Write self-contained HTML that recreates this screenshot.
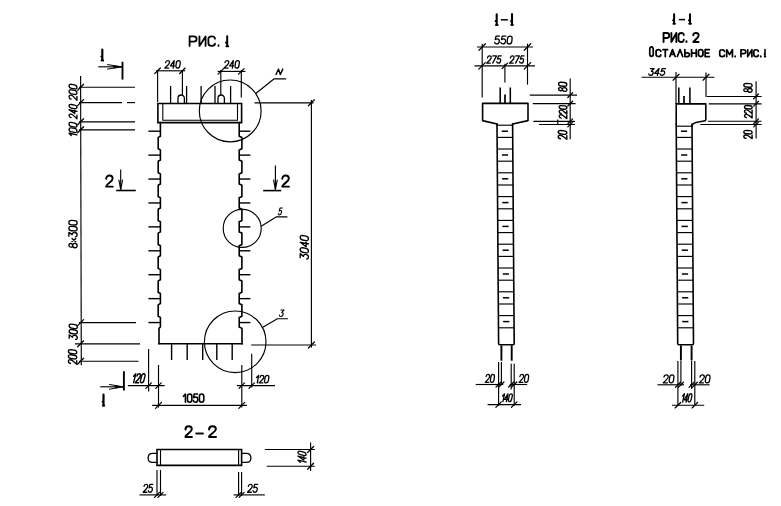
<!DOCTYPE html>
<html><head><meta charset="utf-8"><title>drawing</title>
<style>html,body{margin:0;padding:0;background:#fff;font-family:"Liberation Sans",sans-serif;}
svg{display:block}</style></head>
<body><svg width="781" height="506" viewBox="0 0 781 506">
<rect width="781" height="506" fill="#fff"/>
<defs><filter id="soft" filterUnits="userSpaceOnUse" x="0" y="0" width="781" height="506"><feGaussianBlur stdDeviation="0.3"/></filter></defs>
<g filter="url(#soft)">
<line x1="98.3" y1="66.8" x2="121.8" y2="66.8" stroke="#000" stroke-width="1.15" stroke-linecap="butt"/>
<path d="M121.6 66.8 L107.6 64.6 M121.6 66.8 L107.6 69.1" stroke="#000" stroke-width="1.0" fill="none" stroke-linejoin="round" stroke-linecap="round"/>
<path d="M121.8 66.8 L113.5 65.6 L113.5 68.0 Z" stroke="#000" stroke-width="0.3" fill="#000" stroke-linejoin="round" stroke-linecap="round"/>
<line x1="122.5" y1="61.8" x2="122.5" y2="79.6" stroke="#000" stroke-width="1.85" stroke-linecap="butt"/>
<line x1="80.6" y1="76" x2="81.3" y2="365.3" stroke="#000" stroke-width="1.15" stroke-linecap="butt"/>
<line x1="79" y1="87.2" x2="135" y2="87.2" stroke="#000" stroke-width="1.15" stroke-linecap="butt"/>
<line x1="79" y1="121.8" x2="135" y2="121.8" stroke="#000" stroke-width="1.15" stroke-linecap="butt"/>
<line x1="79" y1="129.8" x2="135" y2="129.8" stroke="#000" stroke-width="1.15" stroke-linecap="butt"/>
<line x1="79" y1="322.6" x2="136" y2="322.6" stroke="#000" stroke-width="1.15" stroke-linecap="butt"/>
<line x1="79" y1="361.2" x2="138.5" y2="361.2" stroke="#000" stroke-width="1.15" stroke-linecap="butt"/>
<line x1="79" y1="102.6" x2="122" y2="102.6" stroke="#000" stroke-width="1.15" stroke-linecap="butt"/>
<line x1="127" y1="102.6" x2="135" y2="102.6" stroke="#000" stroke-width="1.15" stroke-linecap="butt"/>
<line x1="75" y1="343.8" x2="140" y2="343.8" stroke="#000" stroke-width="1.15" stroke-linecap="butt"/>
<line x1="77.61" y1="90.19" x2="83.58999999999999" y2="84.21000000000001" stroke="#000" stroke-width="1.25" stroke-linecap="round"/>
<line x1="77.61" y1="105.58999999999999" x2="83.58999999999999" y2="99.61" stroke="#000" stroke-width="1.25" stroke-linecap="round"/>
<line x1="77.61" y1="124.78999999999999" x2="83.58999999999999" y2="118.81" stroke="#000" stroke-width="1.25" stroke-linecap="round"/>
<line x1="77.61" y1="132.79000000000002" x2="83.58999999999999" y2="126.81000000000002" stroke="#000" stroke-width="1.25" stroke-linecap="round"/>
<line x1="77.61" y1="325.59000000000003" x2="83.58999999999999" y2="319.61" stroke="#000" stroke-width="1.25" stroke-linecap="round"/>
<line x1="77.61" y1="346.79" x2="83.58999999999999" y2="340.81" stroke="#000" stroke-width="1.25" stroke-linecap="round"/>
<line x1="77.61" y1="364.19" x2="83.58999999999999" y2="358.21" stroke="#000" stroke-width="1.25" stroke-linecap="round"/>
<line x1="156" y1="70.8" x2="185.2" y2="70.8" stroke="#000" stroke-width="1.15" stroke-linecap="butt"/>
<line x1="157.6" y1="70" x2="157.6" y2="102" stroke="#000" stroke-width="1.15" stroke-linecap="butt"/>
<line x1="182.4" y1="70" x2="182.4" y2="95" stroke="#000" stroke-width="1.15" stroke-linecap="butt"/>
<line x1="154.84" y1="73.56" x2="160.35999999999999" y2="68.03999999999999" stroke="#000" stroke-width="1.25" stroke-linecap="round"/>
<line x1="179.64000000000001" y1="73.56" x2="185.16" y2="68.03999999999999" stroke="#000" stroke-width="1.25" stroke-linecap="round"/>
<line x1="217.6" y1="71.4" x2="245.4" y2="71.4" stroke="#000" stroke-width="1.15" stroke-linecap="butt"/>
<line x1="220.8" y1="70" x2="220.8" y2="95" stroke="#000" stroke-width="1.15" stroke-linecap="butt"/>
<line x1="241.3" y1="70" x2="241.3" y2="97.5" stroke="#000" stroke-width="1.15" stroke-linecap="butt"/>
<line x1="218.04000000000002" y1="74.16000000000001" x2="223.56" y2="68.64" stroke="#000" stroke-width="1.25" stroke-linecap="round"/>
<line x1="238.54000000000002" y1="74.16000000000001" x2="244.06" y2="68.64" stroke="#000" stroke-width="1.25" stroke-linecap="round"/>
<line x1="170.6" y1="86" x2="170.6" y2="103" stroke="#000" stroke-width="1.3" stroke-linecap="butt"/>
<line x1="186.6" y1="86" x2="186.6" y2="103" stroke="#000" stroke-width="1.3" stroke-linecap="butt"/>
<line x1="201.1" y1="86" x2="201.1" y2="103" stroke="#000" stroke-width="1.3" stroke-linecap="butt"/>
<line x1="215.0" y1="86" x2="215.0" y2="103" stroke="#000" stroke-width="1.3" stroke-linecap="butt"/>
<line x1="230.6" y1="86" x2="230.6" y2="103" stroke="#000" stroke-width="1.3" stroke-linecap="butt"/>
<path d="M178.0 103 L178.0 98.3 A3.2 3.3 0 0 1 184.4 98.3 L184.4 103" stroke="#000" stroke-width="1.3" fill="none" stroke-linejoin="round" stroke-linecap="round"/>
<path d="M218.0 103 L218.0 98.3 A3.2 3.3 0 0 1 224.4 98.3 L224.4 103" stroke="#000" stroke-width="1.3" fill="none" stroke-linejoin="round" stroke-linecap="round"/>
<path d="M157.9 103.5 L241.6 103.5 L241.6 122.6 L157.9 122.6 Z" stroke="#000" stroke-width="1.6" fill="none" stroke-linejoin="miter" stroke-linecap="round"/>
<path d="M162.8 103.5 L162.8 120.3 L237.5 120.3 L237.5 103.5" stroke="#000" stroke-width="1.1" fill="none" stroke-linejoin="miter" stroke-linecap="round"/>
<path d="M160.4 122.6 L160.4 136.2 L158.2 137.4 L158.2 148.8 L160.4 150.0 L160.4 160.1 L158.2 161.3 L158.2 172.7 L160.4 173.9 L160.4 184.0 L158.2 185.2 L158.2 196.6 L160.4 197.8 L160.4 208.0 L158.2 209.2 L158.2 220.6 L160.4 221.8 L160.4 231.9 L158.2 233.1 L158.2 244.5 L160.4 245.7 L160.4 255.8 L158.2 257.0 L158.2 268.4 L160.4 269.6 L160.4 279.7 L158.2 280.9 L158.2 292.3 L160.4 293.5 L160.4 303.6 L158.2 304.8 L158.2 316.2 L160.4 317.4 L160.4 327.0 L159.0 328.4 L159.0 343.8" stroke="#000" stroke-width="1.6" fill="none" stroke-linejoin="round" stroke-linecap="round"/>
<path d="M239.2 122.6 L239.2 136.2 L241.9 137.4 L241.9 148.8 L239.2 150.0 L239.2 160.1 L241.9 161.3 L241.9 172.7 L239.2 173.9 L239.2 184.0 L241.9 185.2 L241.9 196.6 L239.2 197.8 L239.2 208.0 L241.9 209.2 L241.9 220.6 L239.2 221.8 L239.2 231.9 L241.9 233.1 L241.9 244.5 L239.2 245.7 L239.2 255.8 L241.9 257.0 L241.9 268.4 L239.2 269.6 L239.2 279.7 L241.9 280.9 L241.9 292.3 L239.2 293.5 L239.2 303.6 L241.9 304.8 L241.9 316.2 L239.2 317.4 L239.2 327.0 L242.0 328.4 L242.0 343.8" stroke="#000" stroke-width="1.6" fill="none" stroke-linejoin="round" stroke-linecap="round"/>
<line x1="159.0" y1="343.8" x2="242.2" y2="343.8" stroke="#000" stroke-width="1.6" stroke-linecap="square"/>
<line x1="148.4" y1="131.2" x2="160.4" y2="131.2" stroke="#000" stroke-width="1.4" stroke-linecap="butt"/>
<line x1="239.2" y1="131.2" x2="250.4" y2="131.2" stroke="#000" stroke-width="1.4" stroke-linecap="butt"/>
<line x1="148.4" y1="155.12" x2="160.4" y2="155.12" stroke="#000" stroke-width="1.4" stroke-linecap="butt"/>
<line x1="239.2" y1="155.12" x2="250.4" y2="155.12" stroke="#000" stroke-width="1.4" stroke-linecap="butt"/>
<line x1="148.4" y1="179.04" x2="160.4" y2="179.04" stroke="#000" stroke-width="1.4" stroke-linecap="butt"/>
<line x1="239.2" y1="179.04" x2="250.4" y2="179.04" stroke="#000" stroke-width="1.4" stroke-linecap="butt"/>
<line x1="148.4" y1="202.95999999999998" x2="160.4" y2="202.95999999999998" stroke="#000" stroke-width="1.4" stroke-linecap="butt"/>
<line x1="239.2" y1="202.95999999999998" x2="250.4" y2="202.95999999999998" stroke="#000" stroke-width="1.4" stroke-linecap="butt"/>
<line x1="148.4" y1="226.88" x2="160.4" y2="226.88" stroke="#000" stroke-width="1.4" stroke-linecap="butt"/>
<line x1="239.2" y1="226.88" x2="250.4" y2="226.88" stroke="#000" stroke-width="1.4" stroke-linecap="butt"/>
<line x1="148.4" y1="250.8" x2="160.4" y2="250.8" stroke="#000" stroke-width="1.4" stroke-linecap="butt"/>
<line x1="239.2" y1="250.8" x2="250.4" y2="250.8" stroke="#000" stroke-width="1.4" stroke-linecap="butt"/>
<line x1="148.4" y1="274.72" x2="160.4" y2="274.72" stroke="#000" stroke-width="1.4" stroke-linecap="butt"/>
<line x1="239.2" y1="274.72" x2="250.4" y2="274.72" stroke="#000" stroke-width="1.4" stroke-linecap="butt"/>
<line x1="148.4" y1="298.64" x2="160.4" y2="298.64" stroke="#000" stroke-width="1.4" stroke-linecap="butt"/>
<line x1="239.2" y1="298.64" x2="250.4" y2="298.64" stroke="#000" stroke-width="1.4" stroke-linecap="butt"/>
<line x1="148.4" y1="322.56" x2="160.4" y2="322.56" stroke="#000" stroke-width="1.4" stroke-linecap="butt"/>
<line x1="239.2" y1="322.56" x2="250.4" y2="322.56" stroke="#000" stroke-width="1.4" stroke-linecap="butt"/>
<line x1="171.6" y1="343.8" x2="171.6" y2="360" stroke="#000" stroke-width="1.4" stroke-linecap="butt"/>
<line x1="187.2" y1="343.8" x2="187.2" y2="360" stroke="#000" stroke-width="1.4" stroke-linecap="butt"/>
<line x1="202.7" y1="343.8" x2="202.7" y2="360" stroke="#000" stroke-width="1.4" stroke-linecap="butt"/>
<line x1="216.8" y1="343.8" x2="216.8" y2="360" stroke="#000" stroke-width="1.4" stroke-linecap="butt"/>
<line x1="232.2" y1="343.8" x2="232.2" y2="360" stroke="#000" stroke-width="1.4" stroke-linecap="butt"/>
<circle cx="230.2" cy="110.9" r="30.9" stroke="#000" stroke-width="1.15" fill="none"/>
<path d="M256.1 93.3 L274.2 78.8 L285.8 78.8" stroke="#000" stroke-width="1.15" fill="none" stroke-linejoin="round" stroke-linecap="round"/>
<circle cx="242.2" cy="228.4" r="19.0" stroke="#000" stroke-width="1.15" fill="none"/>
<path d="M261.2 226.2 L276.1 216.9 L287 216.9" stroke="#000" stroke-width="1.15" fill="none" stroke-linejoin="round" stroke-linecap="round"/>
<circle cx="235.2" cy="341.8" r="30.8" stroke="#000" stroke-width="1.15" fill="none"/>
<path d="M262.4 327.6 L277.4 318.7 L287.5 318.7" stroke="#000" stroke-width="1.15" fill="none" stroke-linejoin="round" stroke-linecap="round"/>
<line x1="120.7" y1="169.5" x2="120.7" y2="189.6" stroke="#000" stroke-width="1.15" stroke-linecap="butt"/>
<path d="M120.7 189.6 L118.9 180 M120.7 189.6 L122.5 180" stroke="#000" stroke-width="1.15" fill="none" stroke-linejoin="round" stroke-linecap="round"/>
<line x1="116.2" y1="190.5" x2="135.8" y2="190.5" stroke="#000" stroke-width="1.6" stroke-linecap="butt"/>
<line x1="275.4" y1="165.5" x2="275.4" y2="189.6" stroke="#000" stroke-width="1.15" stroke-linecap="butt"/>
<path d="M275.4 189.6 L273.6 180 M275.4 189.6 L277.2 180" stroke="#000" stroke-width="1.15" fill="none" stroke-linejoin="round" stroke-linecap="round"/>
<line x1="263.2" y1="190.6" x2="281.2" y2="190.6" stroke="#000" stroke-width="1.6" stroke-linecap="butt"/>
<line x1="311.4" y1="100" x2="311.4" y2="347.5" stroke="#000" stroke-width="1.15" stroke-linecap="butt"/>
<line x1="254.5" y1="102.8" x2="313.6" y2="102.8" stroke="#000" stroke-width="1.15" stroke-linecap="butt"/>
<line x1="251.2" y1="345" x2="316" y2="345" stroke="#000" stroke-width="1.15" stroke-linecap="butt"/>
<line x1="308.40999999999997" y1="105.78999999999999" x2="314.39" y2="99.81" stroke="#000" stroke-width="1.25" stroke-linecap="round"/>
<line x1="308.40999999999997" y1="347.99" x2="314.39" y2="342.01" stroke="#000" stroke-width="1.25" stroke-linecap="round"/>
<line x1="148.6" y1="349" x2="148.6" y2="391.5" stroke="#000" stroke-width="1.15" stroke-linecap="butt"/>
<line x1="158.5" y1="365" x2="158.5" y2="407.6" stroke="#000" stroke-width="1.15" stroke-linecap="butt"/>
<line x1="127.9" y1="385.6" x2="164.7" y2="385.6" stroke="#000" stroke-width="1.15" stroke-linecap="butt"/>
<line x1="145.84" y1="388.36" x2="151.35999999999999" y2="382.84000000000003" stroke="#000" stroke-width="1.25" stroke-linecap="round"/>
<line x1="155.74" y1="388.36" x2="161.26" y2="382.84000000000003" stroke="#000" stroke-width="1.25" stroke-linecap="round"/>
<line x1="123.9" y1="371.3" x2="123.9" y2="390.5" stroke="#000" stroke-width="1.9" stroke-linecap="butt"/>
<line x1="100.2" y1="386.8" x2="123.2" y2="386.8" stroke="#000" stroke-width="1.15" stroke-linecap="butt"/>
<path d="M123.0 386.8 L109.5 384.5 M123.0 386.8 L109.5 389.2" stroke="#000" stroke-width="1.0" fill="none" stroke-linejoin="round" stroke-linecap="round"/>
<path d="M123.2 386.8 L115 385.6 L115 388.0 Z" stroke="#000" stroke-width="0.3" fill="#000" stroke-linejoin="round" stroke-linecap="round"/>
<line x1="152.2" y1="405.4" x2="246.9" y2="405.4" stroke="#000" stroke-width="1.15" stroke-linecap="butt"/>
<line x1="155.51" y1="408.39" x2="161.49" y2="402.40999999999997" stroke="#000" stroke-width="1.25" stroke-linecap="round"/>
<line x1="238.81" y1="408.39" x2="244.79000000000002" y2="402.40999999999997" stroke="#000" stroke-width="1.25" stroke-linecap="round"/>
<line x1="241.8" y1="365" x2="241.8" y2="407.6" stroke="#000" stroke-width="1.15" stroke-linecap="butt"/>
<line x1="251.7" y1="353.7" x2="251.7" y2="387.6" stroke="#000" stroke-width="1.15" stroke-linecap="butt"/>
<line x1="237" y1="385.6" x2="275" y2="385.6" stroke="#000" stroke-width="1.15" stroke-linecap="butt"/>
<line x1="239.04000000000002" y1="388.36" x2="244.56" y2="382.84000000000003" stroke="#000" stroke-width="1.25" stroke-linecap="round"/>
<line x1="248.94" y1="388.36" x2="254.45999999999998" y2="382.84000000000003" stroke="#000" stroke-width="1.25" stroke-linecap="round"/>
<line x1="195.4" y1="433.5" x2="203.7" y2="433.5" stroke="#000" stroke-width="1.9" stroke-linecap="butt"/>
<path d="M157 449.5 L241.6 449.5 L241.6 465.4 L157 465.4 Z" stroke="#000" stroke-width="1.6" fill="none" stroke-linejoin="miter" stroke-linecap="round"/>
<line x1="160.5" y1="449.5" x2="160.5" y2="465.4" stroke="#000" stroke-width="1.15" stroke-linecap="butt"/>
<line x1="238.6" y1="449.5" x2="238.6" y2="465.4" stroke="#000" stroke-width="1.15" stroke-linecap="butt"/>
<path d="M157 453.4 L152.6 453.4 C146.6 453.4 146.6 462.4 152.6 462.4 L157 462.4" stroke="#000" stroke-width="1.3" fill="none" stroke-linejoin="round" stroke-linecap="round"/>
<path d="M241.6 453.4 L246.4 453.4 C252.4 453.4 252.4 462.4 246.4 462.4 L241.6 462.4" stroke="#000" stroke-width="1.3" fill="none" stroke-linejoin="round" stroke-linecap="round"/>
<line x1="264.8" y1="449.5" x2="314.8" y2="449.5" stroke="#000" stroke-width="1.15" stroke-linecap="butt"/>
<line x1="266.8" y1="466.2" x2="314.8" y2="466.2" stroke="#000" stroke-width="1.15" stroke-linecap="butt"/>
<line x1="310.6" y1="442.5" x2="310.6" y2="471" stroke="#000" stroke-width="1.15" stroke-linecap="butt"/>
<line x1="307.61" y1="452.49" x2="313.59000000000003" y2="446.51" stroke="#000" stroke-width="1.25" stroke-linecap="round"/>
<line x1="307.61" y1="469.19" x2="313.59000000000003" y2="463.21" stroke="#000" stroke-width="1.25" stroke-linecap="round"/>
<line x1="157" y1="470" x2="157" y2="496" stroke="#000" stroke-width="1.15" stroke-linecap="butt"/>
<line x1="160.5" y1="470" x2="160.5" y2="496" stroke="#000" stroke-width="1.15" stroke-linecap="butt"/>
<line x1="139.5" y1="494.9" x2="166.2" y2="494.9" stroke="#000" stroke-width="1.15" stroke-linecap="butt"/>
<line x1="154.47" y1="497.42999999999995" x2="159.53" y2="492.37" stroke="#000" stroke-width="1.25" stroke-linecap="round"/>
<line x1="157.97" y1="497.42999999999995" x2="163.03" y2="492.37" stroke="#000" stroke-width="1.25" stroke-linecap="round"/>
<line x1="238.6" y1="472" x2="238.6" y2="496" stroke="#000" stroke-width="1.15" stroke-linecap="butt"/>
<line x1="241.6" y1="472" x2="241.6" y2="496" stroke="#000" stroke-width="1.15" stroke-linecap="butt"/>
<line x1="233.6" y1="494.9" x2="264.8" y2="494.9" stroke="#000" stroke-width="1.15" stroke-linecap="butt"/>
<line x1="236.07" y1="497.42999999999995" x2="241.13" y2="492.37" stroke="#000" stroke-width="1.25" stroke-linecap="round"/>
<line x1="239.07" y1="497.42999999999995" x2="244.13" y2="492.37" stroke="#000" stroke-width="1.25" stroke-linecap="round"/>
<line x1="500.8" y1="19.8" x2="507.9" y2="19.8" stroke="#000" stroke-width="1.5" stroke-linecap="butt"/>
<line x1="477" y1="47.0" x2="533" y2="47.0" stroke="#000" stroke-width="1.15" stroke-linecap="butt"/>
<line x1="478.97999999999996" y1="50.22" x2="485.42" y2="43.78" stroke="#000" stroke-width="1.25" stroke-linecap="round"/>
<line x1="524.28" y1="50.22" x2="530.72" y2="43.78" stroke="#000" stroke-width="1.25" stroke-linecap="round"/>
<line x1="474.5" y1="65.9" x2="535" y2="65.9" stroke="#000" stroke-width="1.15" stroke-linecap="butt"/>
<line x1="478.78" y1="69.12" x2="485.22" y2="62.68000000000001" stroke="#000" stroke-width="1.25" stroke-linecap="round"/>
<line x1="502.04" y1="68.66000000000001" x2="507.56" y2="63.14000000000001" stroke="#000" stroke-width="1.25" stroke-linecap="round"/>
<line x1="524.28" y1="69.12" x2="530.72" y2="62.68000000000001" stroke="#000" stroke-width="1.25" stroke-linecap="round"/>
<line x1="482.2" y1="43.7" x2="482.2" y2="97.6" stroke="#000" stroke-width="1.15" stroke-linecap="butt"/>
<line x1="527.5" y1="43.7" x2="527.5" y2="84.6" stroke="#000" stroke-width="1.15" stroke-linecap="butt"/>
<line x1="504.9" y1="63.7" x2="504.9" y2="82.5" stroke="#000" stroke-width="1.15" stroke-linecap="butt"/>
<line x1="500.2" y1="87.5" x2="500.2" y2="103.2" stroke="#000" stroke-width="1.55" stroke-linecap="butt"/>
<line x1="510.3" y1="87.5" x2="510.3" y2="103.2" stroke="#000" stroke-width="1.55" stroke-linecap="butt"/>
<line x1="505.0" y1="94.4" x2="505.0" y2="103.2" stroke="#000" stroke-width="1.7" stroke-linecap="butt"/>
<path d="M482.6 103.4 L528.0 103.4 L528.0 120.6 L512.6 124.0 L512.6 125 M482.6 103.4 L482.6 120.6 L497.0 124.0 L497.0 125" stroke="#000" stroke-width="1.6" fill="none" stroke-linejoin="round" stroke-linecap="round"/>
<path d="M497.0 124.0 L498.6 343.6 Q498.6 344.8 499.8 344.8 L513.0 344.8 Q514.2 344.8 514.2 343.6 L512.6 124.0" stroke="#000" stroke-width="1.6" fill="none" stroke-linejoin="round" stroke-linecap="round"/>
<line x1="497.04513193812556" y1="125.19999999999999" x2="512.6451319381256" y2="125.19999999999999" stroke="#000" stroke-width="1.15" stroke-linecap="butt"/>
<line x1="497.04513193812556" y1="137.39999999999998" x2="512.6451319381256" y2="137.39999999999998" stroke="#000" stroke-width="1.15" stroke-linecap="butt"/>
<line x1="501.74513193812555" y1="131.2" x2="507.94513193812554" y2="131.2" stroke="#000" stroke-width="1.5" stroke-linecap="butt"/>
<line x1="497.2183803457689" y1="149.0" x2="512.8183803457689" y2="149.0" stroke="#000" stroke-width="1.15" stroke-linecap="butt"/>
<line x1="497.2183803457689" y1="161.2" x2="512.8183803457689" y2="161.2" stroke="#000" stroke-width="1.15" stroke-linecap="butt"/>
<line x1="501.91838034576887" y1="155.0" x2="508.11838034576886" y2="155.0" stroke="#000" stroke-width="1.5" stroke-linecap="butt"/>
<line x1="497.3916287534122" y1="172.79999999999998" x2="512.9916287534122" y2="172.79999999999998" stroke="#000" stroke-width="1.15" stroke-linecap="butt"/>
<line x1="497.3916287534122" y1="184.99999999999997" x2="512.9916287534122" y2="184.99999999999997" stroke="#000" stroke-width="1.15" stroke-linecap="butt"/>
<line x1="502.0916287534122" y1="178.79999999999998" x2="508.29162875341217" y2="178.79999999999998" stroke="#000" stroke-width="1.5" stroke-linecap="butt"/>
<line x1="497.5648771610555" y1="196.6" x2="513.1648771610555" y2="196.6" stroke="#000" stroke-width="1.15" stroke-linecap="butt"/>
<line x1="497.5648771610555" y1="208.79999999999998" x2="513.1648771610555" y2="208.79999999999998" stroke="#000" stroke-width="1.15" stroke-linecap="butt"/>
<line x1="502.2648771610555" y1="202.6" x2="508.4648771610555" y2="202.6" stroke="#000" stroke-width="1.5" stroke-linecap="butt"/>
<line x1="497.7381255686988" y1="220.39999999999998" x2="513.3381255686988" y2="220.39999999999998" stroke="#000" stroke-width="1.15" stroke-linecap="butt"/>
<line x1="497.7381255686988" y1="232.59999999999997" x2="513.3381255686988" y2="232.59999999999997" stroke="#000" stroke-width="1.15" stroke-linecap="butt"/>
<line x1="502.4381255686988" y1="226.39999999999998" x2="508.6381255686988" y2="226.39999999999998" stroke="#000" stroke-width="1.5" stroke-linecap="butt"/>
<line x1="497.91137397634213" y1="244.2" x2="513.5113739763422" y2="244.2" stroke="#000" stroke-width="1.15" stroke-linecap="butt"/>
<line x1="497.91137397634213" y1="256.4" x2="513.5113739763422" y2="256.4" stroke="#000" stroke-width="1.15" stroke-linecap="butt"/>
<line x1="502.6113739763421" y1="250.2" x2="508.8113739763421" y2="250.2" stroke="#000" stroke-width="1.5" stroke-linecap="butt"/>
<line x1="498.08462238398545" y1="268.0" x2="513.6846223839855" y2="268.0" stroke="#000" stroke-width="1.15" stroke-linecap="butt"/>
<line x1="498.08462238398545" y1="280.2" x2="513.6846223839855" y2="280.2" stroke="#000" stroke-width="1.15" stroke-linecap="butt"/>
<line x1="502.78462238398544" y1="274.0" x2="508.9846223839854" y2="274.0" stroke="#000" stroke-width="1.5" stroke-linecap="butt"/>
<line x1="498.25787079162876" y1="291.79999999999995" x2="513.8578707916288" y2="291.79999999999995" stroke="#000" stroke-width="1.15" stroke-linecap="butt"/>
<line x1="498.25787079162876" y1="303.99999999999994" x2="513.8578707916288" y2="303.99999999999994" stroke="#000" stroke-width="1.15" stroke-linecap="butt"/>
<line x1="502.95787079162875" y1="297.79999999999995" x2="509.15787079162874" y2="297.79999999999995" stroke="#000" stroke-width="1.5" stroke-linecap="butt"/>
<line x1="498.4311191992721" y1="315.6" x2="514.0311191992721" y2="315.6" stroke="#000" stroke-width="1.15" stroke-linecap="butt"/>
<line x1="498.4311191992721" y1="327.8" x2="514.0311191992721" y2="327.8" stroke="#000" stroke-width="1.15" stroke-linecap="butt"/>
<line x1="503.13111919927206" y1="321.6" x2="509.33111919927205" y2="321.6" stroke="#000" stroke-width="1.5" stroke-linecap="butt"/>
<line x1="501.4" y1="345.4" x2="501.4" y2="360.7" stroke="#000" stroke-width="1.9" stroke-linecap="butt"/>
<line x1="511.7" y1="345.4" x2="511.7" y2="360.7" stroke="#000" stroke-width="1.9" stroke-linecap="butt"/>
<line x1="498.6" y1="362" x2="498.6" y2="405.8" stroke="#000" stroke-width="1.15" stroke-linecap="butt"/>
<line x1="501.4" y1="362" x2="501.4" y2="384.8" stroke="#000" stroke-width="1.15" stroke-linecap="butt"/>
<line x1="511.2" y1="363.8" x2="511.2" y2="389.5" stroke="#000" stroke-width="1.15" stroke-linecap="butt"/>
<line x1="514.2" y1="363.8" x2="514.2" y2="405.8" stroke="#000" stroke-width="1.15" stroke-linecap="butt"/>
<line x1="475.7" y1="384.5" x2="503.3" y2="384.5" stroke="#000" stroke-width="1.15" stroke-linecap="butt"/>
<line x1="509.6" y1="384.5" x2="527.2" y2="384.5" stroke="#000" stroke-width="1.15" stroke-linecap="butt"/>
<line x1="496.07000000000005" y1="387.03" x2="501.13" y2="381.97" stroke="#000" stroke-width="1.25" stroke-linecap="round"/>
<line x1="498.87" y1="387.03" x2="503.92999999999995" y2="381.97" stroke="#000" stroke-width="1.25" stroke-linecap="round"/>
<line x1="508.67" y1="387.03" x2="513.73" y2="381.97" stroke="#000" stroke-width="1.25" stroke-linecap="round"/>
<line x1="511.6700000000001" y1="387.03" x2="516.73" y2="381.97" stroke="#000" stroke-width="1.25" stroke-linecap="round"/>
<line x1="487.6" y1="404.6" x2="521" y2="404.6" stroke="#000" stroke-width="1.15" stroke-linecap="butt"/>
<line x1="495.84000000000003" y1="407.36" x2="501.36" y2="401.84000000000003" stroke="#000" stroke-width="1.25" stroke-linecap="round"/>
<line x1="511.44000000000005" y1="407.36" x2="516.96" y2="401.84000000000003" stroke="#000" stroke-width="1.25" stroke-linecap="round"/>
<line x1="570.2" y1="78.5" x2="570.2" y2="139.3" stroke="#000" stroke-width="1.15" stroke-linecap="butt"/>
<line x1="557.8" y1="119.5" x2="557.8" y2="125" stroke="#000" stroke-width="1.15" stroke-linecap="butt"/>
<line x1="529.8" y1="95.1" x2="577" y2="95.1" stroke="#000" stroke-width="1.15" stroke-linecap="butt"/>
<line x1="532.8" y1="103.6" x2="575.6" y2="103.6" stroke="#000" stroke-width="1.15" stroke-linecap="butt"/>
<line x1="533.4" y1="121.3" x2="575" y2="121.3" stroke="#000" stroke-width="1.15" stroke-linecap="butt"/>
<line x1="539" y1="124.5" x2="575" y2="124.5" stroke="#000" stroke-width="1.15" stroke-linecap="butt"/>
<line x1="567.8000000000001" y1="97.5" x2="572.6" y2="92.69999999999999" stroke="#000" stroke-width="1.25" stroke-linecap="round"/>
<line x1="567.8000000000001" y1="106.0" x2="572.6" y2="101.19999999999999" stroke="#000" stroke-width="1.25" stroke-linecap="round"/>
<line x1="567.8000000000001" y1="123.7" x2="572.6" y2="118.89999999999999" stroke="#000" stroke-width="1.25" stroke-linecap="round"/>
<line x1="567.8000000000001" y1="126.9" x2="572.6" y2="122.1" stroke="#000" stroke-width="1.25" stroke-linecap="round"/>
<line x1="678.8" y1="19.6" x2="685.0" y2="19.6" stroke="#000" stroke-width="1.5" stroke-linecap="butt"/>
<line x1="641.6" y1="77.2" x2="714.4" y2="77.2" stroke="#000" stroke-width="1.15" stroke-linecap="butt"/>
<line x1="673.01" y1="80.19" x2="678.99" y2="74.21000000000001" stroke="#000" stroke-width="1.25" stroke-linecap="round"/>
<line x1="703.01" y1="80.19" x2="708.99" y2="74.21000000000001" stroke="#000" stroke-width="1.25" stroke-linecap="round"/>
<line x1="676.0" y1="72.0" x2="676.0" y2="103.9" stroke="#000" stroke-width="1.15" stroke-linecap="butt"/>
<line x1="706.0" y1="72.5" x2="706.0" y2="96.9" stroke="#000" stroke-width="1.15" stroke-linecap="butt"/>
<line x1="678.8" y1="87.6" x2="678.8" y2="103.9" stroke="#000" stroke-width="1.55" stroke-linecap="butt"/>
<line x1="689.9" y1="87.6" x2="689.9" y2="103.9" stroke="#000" stroke-width="1.55" stroke-linecap="butt"/>
<line x1="684.0" y1="96.0" x2="684.0" y2="103.9" stroke="#000" stroke-width="1.7" stroke-linecap="butt"/>
<path d="M676.2 124.5 L676.2 103.9 L705.8 103.9 L705.8 119.4 Q705.8 120.8 704 121.0 L697 122.2 Q692.2 123 692.0 126.2" stroke="#000" stroke-width="1.6" fill="none" stroke-linejoin="round" stroke-linecap="round"/>
<path d="M676.2 124.0 L677.7 343.6 Q677.7 344.8 678.9000000000001 344.8 L692.3 344.8 Q693.5 344.8 693.5 343.6 L692.0 124.0" stroke="#000" stroke-width="1.6" fill="none" stroke-linejoin="round" stroke-linecap="round"/>
<line x1="676.2423111919927" y1="126.2" x2="692.0423111919927" y2="126.2" stroke="#000" stroke-width="1.15" stroke-linecap="butt"/>
<line x1="676.2423111919927" y1="137.39999999999998" x2="692.0423111919927" y2="137.39999999999998" stroke="#000" stroke-width="1.15" stroke-linecap="butt"/>
<line x1="680.9423111919928" y1="131.2" x2="687.1423111919927" y2="131.2" stroke="#000" stroke-width="1.5" stroke-linecap="butt"/>
<line x1="676.4047315741584" y1="149.0" x2="692.2047315741584" y2="149.0" stroke="#000" stroke-width="1.15" stroke-linecap="butt"/>
<line x1="676.4047315741584" y1="161.2" x2="692.2047315741584" y2="161.2" stroke="#000" stroke-width="1.15" stroke-linecap="butt"/>
<line x1="681.1047315741584" y1="155.0" x2="687.3047315741584" y2="155.0" stroke="#000" stroke-width="1.5" stroke-linecap="butt"/>
<line x1="676.567151956324" y1="172.79999999999998" x2="692.3671519563239" y2="172.79999999999998" stroke="#000" stroke-width="1.15" stroke-linecap="butt"/>
<line x1="676.567151956324" y1="184.99999999999997" x2="692.3671519563239" y2="184.99999999999997" stroke="#000" stroke-width="1.15" stroke-linecap="butt"/>
<line x1="681.267151956324" y1="178.79999999999998" x2="687.467151956324" y2="178.79999999999998" stroke="#000" stroke-width="1.5" stroke-linecap="butt"/>
<line x1="676.7295723384896" y1="196.6" x2="692.5295723384895" y2="196.6" stroke="#000" stroke-width="1.15" stroke-linecap="butt"/>
<line x1="676.7295723384896" y1="208.79999999999998" x2="692.5295723384895" y2="208.79999999999998" stroke="#000" stroke-width="1.15" stroke-linecap="butt"/>
<line x1="681.4295723384896" y1="202.6" x2="687.6295723384895" y2="202.6" stroke="#000" stroke-width="1.5" stroke-linecap="butt"/>
<line x1="676.8919927206551" y1="220.39999999999998" x2="692.6919927206551" y2="220.39999999999998" stroke="#000" stroke-width="1.15" stroke-linecap="butt"/>
<line x1="676.8919927206551" y1="232.59999999999997" x2="692.6919927206551" y2="232.59999999999997" stroke="#000" stroke-width="1.15" stroke-linecap="butt"/>
<line x1="681.5919927206552" y1="226.39999999999998" x2="687.7919927206551" y2="226.39999999999998" stroke="#000" stroke-width="1.5" stroke-linecap="butt"/>
<line x1="677.0544131028208" y1="244.2" x2="692.8544131028208" y2="244.2" stroke="#000" stroke-width="1.15" stroke-linecap="butt"/>
<line x1="677.0544131028208" y1="256.4" x2="692.8544131028208" y2="256.4" stroke="#000" stroke-width="1.15" stroke-linecap="butt"/>
<line x1="681.7544131028209" y1="250.2" x2="687.9544131028208" y2="250.2" stroke="#000" stroke-width="1.5" stroke-linecap="butt"/>
<line x1="677.2168334849864" y1="268.0" x2="693.0168334849864" y2="268.0" stroke="#000" stroke-width="1.15" stroke-linecap="butt"/>
<line x1="677.2168334849864" y1="280.2" x2="693.0168334849864" y2="280.2" stroke="#000" stroke-width="1.15" stroke-linecap="butt"/>
<line x1="681.9168334849865" y1="274.0" x2="688.1168334849864" y2="274.0" stroke="#000" stroke-width="1.5" stroke-linecap="butt"/>
<line x1="677.379253867152" y1="291.79999999999995" x2="693.1792538671519" y2="291.79999999999995" stroke="#000" stroke-width="1.15" stroke-linecap="butt"/>
<line x1="677.379253867152" y1="303.99999999999994" x2="693.1792538671519" y2="303.99999999999994" stroke="#000" stroke-width="1.15" stroke-linecap="butt"/>
<line x1="682.079253867152" y1="297.79999999999995" x2="688.279253867152" y2="297.79999999999995" stroke="#000" stroke-width="1.5" stroke-linecap="butt"/>
<line x1="677.5416742493176" y1="315.6" x2="693.3416742493175" y2="315.6" stroke="#000" stroke-width="1.15" stroke-linecap="butt"/>
<line x1="677.5416742493176" y1="327.8" x2="693.3416742493175" y2="327.8" stroke="#000" stroke-width="1.15" stroke-linecap="butt"/>
<line x1="682.2416742493176" y1="321.6" x2="688.4416742493175" y2="321.6" stroke="#000" stroke-width="1.5" stroke-linecap="butt"/>
<line x1="680.9" y1="345.4" x2="680.9" y2="360.5" stroke="#000" stroke-width="1.9" stroke-linecap="butt"/>
<line x1="691.6" y1="345.4" x2="691.6" y2="360.5" stroke="#000" stroke-width="1.9" stroke-linecap="butt"/>
<line x1="677.9" y1="361" x2="677.9" y2="405.8" stroke="#000" stroke-width="1.15" stroke-linecap="butt"/>
<line x1="680.9" y1="361" x2="680.9" y2="385" stroke="#000" stroke-width="1.15" stroke-linecap="butt"/>
<line x1="691.6" y1="361" x2="691.6" y2="389" stroke="#000" stroke-width="1.15" stroke-linecap="butt"/>
<line x1="694.8" y1="361" x2="694.8" y2="405.8" stroke="#000" stroke-width="1.15" stroke-linecap="butt"/>
<line x1="657.4" y1="384.8" x2="684" y2="384.8" stroke="#000" stroke-width="1.15" stroke-linecap="butt"/>
<line x1="690" y1="384.8" x2="709.6" y2="384.8" stroke="#000" stroke-width="1.15" stroke-linecap="butt"/>
<line x1="675.37" y1="387.33" x2="680.43" y2="382.27000000000004" stroke="#000" stroke-width="1.25" stroke-linecap="round"/>
<line x1="678.37" y1="387.33" x2="683.43" y2="382.27000000000004" stroke="#000" stroke-width="1.25" stroke-linecap="round"/>
<line x1="689.07" y1="387.33" x2="694.13" y2="382.27000000000004" stroke="#000" stroke-width="1.25" stroke-linecap="round"/>
<line x1="692.27" y1="387.33" x2="697.3299999999999" y2="382.27000000000004" stroke="#000" stroke-width="1.25" stroke-linecap="round"/>
<line x1="672" y1="405.2" x2="704.2" y2="405.2" stroke="#000" stroke-width="1.15" stroke-linecap="butt"/>
<line x1="675.14" y1="407.96" x2="680.66" y2="402.44" stroke="#000" stroke-width="1.25" stroke-linecap="round"/>
<line x1="692.04" y1="407.96" x2="697.56" y2="402.44" stroke="#000" stroke-width="1.25" stroke-linecap="round"/>
<line x1="756.1" y1="81.2" x2="756.1" y2="138.6" stroke="#000" stroke-width="1.15" stroke-linecap="butt"/>
<line x1="707" y1="96.5" x2="761.6" y2="96.5" stroke="#000" stroke-width="1.15" stroke-linecap="butt"/>
<line x1="708.7" y1="103.9" x2="761.6" y2="103.9" stroke="#000" stroke-width="1.15" stroke-linecap="butt"/>
<line x1="707.9" y1="121.2" x2="761.6" y2="121.2" stroke="#000" stroke-width="1.15" stroke-linecap="butt"/>
<line x1="700.3" y1="124.5" x2="761.6" y2="124.5" stroke="#000" stroke-width="1.15" stroke-linecap="butt"/>
<line x1="753.7" y1="98.80000000000001" x2="758.5" y2="94.0" stroke="#000" stroke-width="1.25" stroke-linecap="round"/>
<line x1="753.7" y1="106.10000000000001" x2="758.5" y2="101.3" stroke="#000" stroke-width="1.25" stroke-linecap="round"/>
<line x1="753.7" y1="123.7" x2="758.5" y2="118.89999999999999" stroke="#000" stroke-width="1.25" stroke-linecap="round"/>
<line x1="753.7" y1="126.9" x2="758.5" y2="122.1" stroke="#000" stroke-width="1.25" stroke-linecap="round"/>
<g transform="translate(189.60 45.90) scale(1.1746 0.9500)" fill="none" stroke="#000" stroke-width="1.8" stroke-linecap="round" stroke-linejoin="round"><path vector-effect="non-scaling-stroke" transform="translate(0.000 -10)" d="M0 10 L0 0 L3.4 0 C5.1 0 6.0 1 6.0 2.8 C6.0 4.6 5.1 5.6 3.4 5.6 L0 5.6"/><path vector-effect="non-scaling-stroke" transform="translate(8.400 -10)" d="M0 0 L0 10 L5.2 0 L5.2 10"/><path vector-effect="non-scaling-stroke" transform="translate(16.000 -10)" d="M5.6 2.4 C5.6 0.9 4.5 0 2.9 0 C1 0 0 1 0 2.8 L0 7.2 C0 9 1 10 2.9 10 C4.5 10 5.6 9.1 5.6 7.6"/><path vector-effect="non-scaling-stroke" transform="translate(24.000 -10)" d="M0.6 9.3 L0.6 10"/></g>
<g transform="translate(226.00 46.50) scale(1.0000 1.0500)" fill="none" stroke="#000" stroke-width="2.0" stroke-linecap="round" stroke-linejoin="round"><path vector-effect="non-scaling-stroke" transform="translate(0.000 -10)" d="M0.1 6.3 L1.2 5.6 M1.2 0.2 L1.2 9.7 M0.4 9.8 L2.2 9.8"/></g>
<g transform="translate(101.40 60.70) scale(0.7500 1.1400)" fill="none" stroke="#000" stroke-width="2.2" stroke-linecap="round" stroke-linejoin="round"><path vector-effect="non-scaling-stroke" transform="translate(0.000 -10)" d="M0.1 6.3 L1.2 5.6 M1.2 0.2 L1.2 9.7 M0.4 9.8 L2.2 9.8"/></g>
<g transform="translate(102.70 405.80) scale(0.6667 1.1400)" fill="none" stroke="#000" stroke-width="2.2" stroke-linecap="round" stroke-linejoin="round"><path vector-effect="non-scaling-stroke" transform="translate(0.000 -10)" d="M0.1 6.3 L1.2 5.6 M1.2 0.2 L1.2 9.7 M0.4 9.8 L2.2 9.8"/></g>
<g transform="translate(76.95 100.35) rotate(-90) skewX(-11) scale(0.7194 0.7900)" fill="none" stroke="#000" stroke-width="1.3" stroke-linecap="round" stroke-linejoin="round"><path vector-effect="non-scaling-stroke" transform="translate(0.000 -10)" d="M0 2.6 C0 1 1.1 0 2.8 0 C4.5 0 5.6 1 5.6 2.6 C5.6 4 4.8 5 3.6 6.2 L0 10 L5.6 10"/><path vector-effect="non-scaling-stroke" transform="translate(7.600 -10)" d="M2.8 0 C1 0 0 1.3 0 3 L0 7 C0 8.7 1 10 2.8 10 C4.6 10 5.6 8.7 5.6 7 L5.6 3 C5.6 1.3 4.6 0 2.8 0 Z"/><path vector-effect="non-scaling-stroke" transform="translate(15.200 -10)" d="M2.8 0 C1 0 0 1.3 0 3 L0 7 C0 8.7 1 10 2.8 10 C4.6 10 5.6 8.7 5.6 7 L5.6 3 C5.6 1.3 4.6 0 2.8 0 Z"/></g>
<g transform="translate(76.95 118.75) rotate(-90) skewX(-11) scale(0.6269 0.7900)" fill="none" stroke="#000" stroke-width="1.3" stroke-linecap="round" stroke-linejoin="round"><path vector-effect="non-scaling-stroke" transform="translate(0.000 -10)" d="M0 2.6 C0 1 1.1 0 2.8 0 C4.5 0 5.6 1 5.6 2.6 C5.6 4 4.8 5 3.6 6.2 L0 10 L5.6 10"/><path vector-effect="non-scaling-stroke" transform="translate(7.600 -10)" d="M4.3 10 L4.3 0 L0 7.2 L5.8 7.2"/><path vector-effect="non-scaling-stroke" transform="translate(15.400 -10)" d="M2.8 0 C1 0 0 1.3 0 3 L0 7 C0 8.7 1 10 2.8 10 C4.6 10 5.6 8.7 5.6 7 L5.6 3 C5.6 1.3 4.6 0 2.8 0 Z"/></g>
<g transform="translate(76.95 136.65) rotate(-90) skewX(-11) scale(0.7155 0.7900)" fill="none" stroke="#000" stroke-width="1.3" stroke-linecap="round" stroke-linejoin="round"><path vector-effect="non-scaling-stroke" transform="translate(0.000 -10)" d="M0 2.8 L2.6 0 L2.6 10"/><path vector-effect="non-scaling-stroke" transform="translate(5.200 -10)" d="M2.8 0 C1 0 0 1.3 0 3 L0 7 C0 8.7 1 10 2.8 10 C4.6 10 5.6 8.7 5.6 7 L5.6 3 C5.6 1.3 4.6 0 2.8 0 Z"/><path vector-effect="non-scaling-stroke" transform="translate(12.800 -10)" d="M2.8 0 C1 0 0 1.3 0 3 L0 7 C0 8.7 1 10 2.8 10 C4.6 10 5.6 8.7 5.6 7 L5.6 3 C5.6 1.3 4.6 0 2.8 0 Z"/></g>
<g transform="translate(77.12 247.92) rotate(-90) skewX(-4) scale(0.7780 0.8250)" fill="none" stroke="#000" stroke-width="1.35" stroke-linecap="round" stroke-linejoin="round"><path vector-effect="non-scaling-stroke" transform="translate(0.000 -10)" d="M2.8 4.6 C1.4 4.6 0.5 3.7 0.5 2.3 C0.5 0.9 1.4 0 2.8 0 C4.2 0 5.1 0.9 5.1 2.3 C5.1 3.7 4.2 4.6 2.8 4.6 C1.1 4.6 0 5.7 0 7.3 C0 8.9 1.1 10 2.8 10 C4.5 10 5.6 8.9 5.6 7.3 C5.6 5.7 4.5 4.6 2.8 4.6 Z"/><path vector-effect="non-scaling-stroke" transform="translate(7.600 -10)" d="M0.2 3.8 L4.2 8.4 M4.2 3.8 L0.2 8.4"/><path vector-effect="non-scaling-stroke" transform="translate(14.000 -10)" d="M0.3 0 L5.3 0 L2.6 4 C4.4 4 5.6 5.1 5.6 7 C5.6 8.9 4.5 10 2.8 10 C1.3 10 0.3 9.3 0 8"/><path vector-effect="non-scaling-stroke" transform="translate(21.600 -10)" d="M2.8 0 C1 0 0 1.3 0 3 L0 7 C0 8.7 1 10 2.8 10 C4.6 10 5.6 8.7 5.6 7 L5.6 3 C5.6 1.3 4.6 0 2.8 0 Z"/><path vector-effect="non-scaling-stroke" transform="translate(29.200 -10)" d="M2.8 0 C1 0 0 1.3 0 3 L0 7 C0 8.7 1 10 2.8 10 C4.6 10 5.6 8.7 5.6 7 L5.6 3 C5.6 1.3 4.6 0 2.8 0 Z"/></g>
<g transform="translate(77.33 339.72) rotate(-90) skewX(-8) scale(0.7118 0.8150)" fill="none" stroke="#000" stroke-width="1.35" stroke-linecap="round" stroke-linejoin="round"><path vector-effect="non-scaling-stroke" transform="translate(0.000 -10)" d="M0.3 0 L5.3 0 L2.6 4 C4.4 4 5.6 5.1 5.6 7 C5.6 8.9 4.5 10 2.8 10 C1.3 10 0.3 9.3 0 8"/><path vector-effect="non-scaling-stroke" transform="translate(7.600 -10)" d="M2.8 0 C1 0 0 1.3 0 3 L0 7 C0 8.7 1 10 2.8 10 C4.6 10 5.6 8.7 5.6 7 L5.6 3 C5.6 1.3 4.6 0 2.8 0 Z"/><path vector-effect="non-scaling-stroke" transform="translate(15.200 -10)" d="M2.8 0 C1 0 0 1.3 0 3 L0 7 C0 8.7 1 10 2.8 10 C4.6 10 5.6 8.7 5.6 7 L5.6 3 C5.6 1.3 4.6 0 2.8 0 Z"/></g>
<g transform="translate(76.73 364.32) rotate(-90) skewX(-8) scale(0.6623 0.8350)" fill="none" stroke="#000" stroke-width="1.35" stroke-linecap="round" stroke-linejoin="round"><path vector-effect="non-scaling-stroke" transform="translate(0.000 -10)" d="M0 2.6 C0 1 1.1 0 2.8 0 C4.5 0 5.6 1 5.6 2.6 C5.6 4 4.8 5 3.6 6.2 L0 10 L5.6 10"/><path vector-effect="non-scaling-stroke" transform="translate(7.600 -10)" d="M2.8 0 C1 0 0 1.3 0 3 L0 7 C0 8.7 1 10 2.8 10 C4.6 10 5.6 8.7 5.6 7 L5.6 3 C5.6 1.3 4.6 0 2.8 0 Z"/><path vector-effect="non-scaling-stroke" transform="translate(15.200 -10)" d="M2.8 0 C1 0 0 1.3 0 3 L0 7 C0 8.7 1 10 2.8 10 C4.6 10 5.6 8.7 5.6 7 L5.6 3 C5.6 1.3 4.6 0 2.8 0 Z"/></g>
<g transform="translate(164.85 68.05) skewX(-8) scale(0.6974 0.7500)" fill="none" stroke="#000" stroke-width="1.3" stroke-linecap="round" stroke-linejoin="round"><path vector-effect="non-scaling-stroke" transform="translate(0.000 -10)" d="M0 2.6 C0 1 1.1 0 2.8 0 C4.5 0 5.6 1 5.6 2.6 C5.6 4 4.8 5 3.6 6.2 L0 10 L5.6 10"/><path vector-effect="non-scaling-stroke" transform="translate(7.600 -10)" d="M4.3 10 L4.3 0 L0 7.2 L5.8 7.2"/><path vector-effect="non-scaling-stroke" transform="translate(15.400 -10)" d="M2.8 0 C1 0 0 1.3 0 3 L0 7 C0 8.7 1 10 2.8 10 C4.6 10 5.6 8.7 5.6 7 L5.6 3 C5.6 1.3 4.6 0 2.8 0 Z"/></g>
<g transform="translate(224.15 68.05) skewX(-8) scale(0.6879 0.7500)" fill="none" stroke="#000" stroke-width="1.3" stroke-linecap="round" stroke-linejoin="round"><path vector-effect="non-scaling-stroke" transform="translate(0.000 -10)" d="M0 2.6 C0 1 1.1 0 2.8 0 C4.5 0 5.6 1 5.6 2.6 C5.6 4 4.8 5 3.6 6.2 L0 10 L5.6 10"/><path vector-effect="non-scaling-stroke" transform="translate(7.600 -10)" d="M4.3 10 L4.3 0 L0 7.2 L5.8 7.2"/><path vector-effect="non-scaling-stroke" transform="translate(15.400 -10)" d="M2.8 0 C1 0 0 1.3 0 3 L0 7 C0 8.7 1 10 2.8 10 C4.6 10 5.6 8.7 5.6 7 L5.6 3 C5.6 1.3 4.6 0 2.8 0 Z"/></g>
<g transform="translate(276.00 74.50) skewX(-25) scale(0.7646 0.5400)" fill="none" stroke="#000" stroke-width="1.4" stroke-linecap="round" stroke-linejoin="round"><path vector-effect="non-scaling-stroke" transform="translate(0.000 -10)" d="M0 10 L0 0 L5.6 10 L5.6 0"/></g>
<g transform="translate(277.95 214.85) skewX(-14) scale(0.5321 0.6900)" fill="none" stroke="#000" stroke-width="1.1" stroke-linecap="round" stroke-linejoin="round"><path vector-effect="non-scaling-stroke" transform="translate(0.000 -10)" d="M5.2 0 L0.9 0 L0.4 4.4 C1.2 3.8 2 3.6 2.9 3.6 C4.6 3.6 5.6 4.9 5.6 6.8 C5.6 8.8 4.5 10 2.8 10 C1.3 10 0.3 9.3 0 8"/></g>
<g transform="translate(279.15 316.45) skewX(-14) scale(0.6213 0.6500)" fill="none" stroke="#000" stroke-width="1.1" stroke-linecap="round" stroke-linejoin="round"><path vector-effect="non-scaling-stroke" transform="translate(0.000 -10)" d="M0.3 0 L5.3 0 L2.6 4 C4.4 4 5.6 5.1 5.6 7 C5.6 8.9 4.5 10 2.8 10 C1.3 10 0.3 9.3 0 8"/></g>
<g transform="translate(308.43 259.32) rotate(-90) skewX(-10) scale(0.7970 0.8250)" fill="none" stroke="#000" stroke-width="1.35" stroke-linecap="round" stroke-linejoin="round"><path vector-effect="non-scaling-stroke" transform="translate(0.000 -10)" d="M0.3 0 L5.3 0 L2.6 4 C4.4 4 5.6 5.1 5.6 7 C5.6 8.9 4.5 10 2.8 10 C1.3 10 0.3 9.3 0 8"/><path vector-effect="non-scaling-stroke" transform="translate(7.600 -10)" d="M2.8 0 C1 0 0 1.3 0 3 L0 7 C0 8.7 1 10 2.8 10 C4.6 10 5.6 8.7 5.6 7 L5.6 3 C5.6 1.3 4.6 0 2.8 0 Z"/><path vector-effect="non-scaling-stroke" transform="translate(15.200 -10)" d="M4.3 10 L4.3 0 L0 7.2 L5.8 7.2"/><path vector-effect="non-scaling-stroke" transform="translate(23.000 -10)" d="M2.8 0 C1 0 0 1.3 0 3 L0 7 C0 8.7 1 10 2.8 10 C4.6 10 5.6 8.7 5.6 7 L5.6 3 C5.6 1.3 4.6 0 2.8 0 Z"/></g>
<g transform="translate(132.00 382.70) skewX(-14) scale(0.6172 0.9000)" fill="none" stroke="#000" stroke-width="1.4" stroke-linecap="round" stroke-linejoin="round"><path vector-effect="non-scaling-stroke" transform="translate(0.000 -10)" d="M0 2.8 L2.6 0 L2.6 10"/><path vector-effect="non-scaling-stroke" transform="translate(5.200 -10)" d="M0 2.6 C0 1 1.1 0 2.8 0 C4.5 0 5.6 1 5.6 2.6 C5.6 4 4.8 5 3.6 6.2 L0 10 L5.6 10"/><path vector-effect="non-scaling-stroke" transform="translate(12.800 -10)" d="M2.8 0 C1 0 0 1.3 0 3 L0 7 C0 8.7 1 10 2.8 10 C4.6 10 5.6 8.7 5.6 7 L5.6 3 C5.6 1.3 4.6 0 2.8 0 Z"/></g>
<g transform="translate(183.40 402.20) scale(0.7846 0.8200)" fill="none" stroke="#000" stroke-width="1.6" stroke-linecap="round" stroke-linejoin="round"><path vector-effect="non-scaling-stroke" transform="translate(0.000 -10)" d="M0 2.8 L2.6 0 L2.6 10"/><path vector-effect="non-scaling-stroke" transform="translate(5.200 -10)" d="M2.8 0 C1 0 0 1.3 0 3 L0 7 C0 8.7 1 10 2.8 10 C4.6 10 5.6 8.7 5.6 7 L5.6 3 C5.6 1.3 4.6 0 2.8 0 Z"/><path vector-effect="non-scaling-stroke" transform="translate(12.800 -10)" d="M5.2 0 L0.9 0 L0.4 4.4 C1.2 3.8 2 3.6 2.9 3.6 C4.6 3.6 5.6 4.9 5.6 6.8 C5.6 8.8 4.5 10 2.8 10 C1.3 10 0.3 9.3 0 8"/><path vector-effect="non-scaling-stroke" transform="translate(20.400 -10)" d="M2.8 0 C1 0 0 1.3 0 3 L0 7 C0 8.7 1 10 2.8 10 C4.6 10 5.6 8.7 5.6 7 L5.6 3 C5.6 1.3 4.6 0 2.8 0 Z"/></g>
<g transform="translate(255.55 382.95) skewX(-10) scale(0.6727 0.7500)" fill="none" stroke="#000" stroke-width="1.3" stroke-linecap="round" stroke-linejoin="round"><path vector-effect="non-scaling-stroke" transform="translate(0.000 -10)" d="M0 2.8 L2.6 0 L2.6 10"/><path vector-effect="non-scaling-stroke" transform="translate(5.200 -10)" d="M0 2.6 C0 1 1.1 0 2.8 0 C4.5 0 5.6 1 5.6 2.6 C5.6 4 4.8 5 3.6 6.2 L0 10 L5.6 10"/><path vector-effect="non-scaling-stroke" transform="translate(12.800 -10)" d="M2.8 0 C1 0 0 1.3 0 3 L0 7 C0 8.7 1 10 2.8 10 C4.6 10 5.6 8.7 5.6 7 L5.6 3 C5.6 1.3 4.6 0 2.8 0 Z"/></g>
<g transform="translate(306.15 463.75) rotate(-90) skewX(-14) scale(0.5930 0.8300)" fill="none" stroke="#000" stroke-width="1.3" stroke-linecap="round" stroke-linejoin="round"><path vector-effect="non-scaling-stroke" transform="translate(0.000 -10)" d="M0 2.8 L2.6 0 L2.6 10"/><path vector-effect="non-scaling-stroke" transform="translate(5.200 -10)" d="M4.3 10 L4.3 0 L0 7.2 L5.8 7.2"/><path vector-effect="non-scaling-stroke" transform="translate(13.000 -10)" d="M2.8 0 C1 0 0 1.3 0 3 L0 7 C0 8.7 1 10 2.8 10 C4.6 10 5.6 8.7 5.6 7 L5.6 3 C5.6 1.3 4.6 0 2.8 0 Z"/></g>
<g transform="translate(143.15 492.25) skewX(-8) scale(0.6659 0.7900)" fill="none" stroke="#000" stroke-width="1.3" stroke-linecap="round" stroke-linejoin="round"><path vector-effect="non-scaling-stroke" transform="translate(0.000 -10)" d="M0 2.6 C0 1 1.1 0 2.8 0 C4.5 0 5.6 1 5.6 2.6 C5.6 4 4.8 5 3.6 6.2 L0 10 L5.6 10"/><path vector-effect="non-scaling-stroke" transform="translate(7.600 -10)" d="M5.2 0 L0.9 0 L0.4 4.4 C1.2 3.8 2 3.6 2.9 3.6 C4.6 3.6 5.6 4.9 5.6 6.8 C5.6 8.8 4.5 10 2.8 10 C1.3 10 0.3 9.3 0 8"/></g>
<g transform="translate(247.45 492.25) skewX(-8) scale(0.7113 0.7900)" fill="none" stroke="#000" stroke-width="1.3" stroke-linecap="round" stroke-linejoin="round"><path vector-effect="non-scaling-stroke" transform="translate(0.000 -10)" d="M0 2.6 C0 1 1.1 0 2.8 0 C4.5 0 5.6 1 5.6 2.6 C5.6 4 4.8 5 3.6 6.2 L0 10 L5.6 10"/><path vector-effect="non-scaling-stroke" transform="translate(7.600 -10)" d="M5.2 0 L0.9 0 L0.4 4.4 C1.2 3.8 2 3.6 2.9 3.6 C4.6 3.6 5.6 4.9 5.6 6.8 C5.6 8.8 4.5 10 2.8 10 C1.3 10 0.3 9.3 0 8"/></g>
<g transform="translate(105.95 186.65) scale(1.0625 1.1200)" fill="none" stroke="#000" stroke-width="1.9" stroke-linecap="round" stroke-linejoin="round"><path vector-effect="non-scaling-stroke" transform="translate(0.000 -10)" d="M0.2 3.0 C0.2 1.2 1.5 0 3.3 0 C5.1 0 6.3 1.1 6.3 2.7 C6.3 4.2 5.3 5.1 3.5 6.4 C1.7 7.7 0.5 8.6 0.1 10 L6.4 10"/></g>
<g transform="translate(282.05 186.65) scale(1.0781 1.1200)" fill="none" stroke="#000" stroke-width="1.9" stroke-linecap="round" stroke-linejoin="round"><path vector-effect="non-scaling-stroke" transform="translate(0.000 -10)" d="M0.2 3.0 C0.2 1.2 1.5 0 3.3 0 C5.1 0 6.3 1.1 6.3 2.7 C6.3 4.2 5.3 5.1 3.5 6.4 C1.7 7.7 0.5 8.6 0.1 10 L6.4 10"/></g>
<g transform="translate(185.30 436.90) scale(1.0312 1.0700)" fill="none" stroke="#000" stroke-width="2.0" stroke-linecap="round" stroke-linejoin="round"><path vector-effect="non-scaling-stroke" transform="translate(0.000 -10)" d="M0.2 3.0 C0.2 1.2 1.5 0 3.3 0 C5.1 0 6.3 1.1 6.3 2.7 C6.3 4.2 5.3 5.1 3.5 6.4 C1.7 7.7 0.5 8.6 0.1 10 L6.4 10"/></g>
<g transform="translate(208.90 436.90) scale(1.1094 1.0700)" fill="none" stroke="#000" stroke-width="2.0" stroke-linecap="round" stroke-linejoin="round"><path vector-effect="non-scaling-stroke" transform="translate(0.000 -10)" d="M0.2 3.0 C0.2 1.2 1.5 0 3.3 0 C5.1 0 6.3 1.1 6.3 2.7 C6.3 4.2 5.3 5.1 3.5 6.4 C1.7 7.7 0.5 8.6 0.1 10 L6.4 10"/></g>
<g transform="translate(495.65 25.25) scale(0.8750 1.1300)" fill="none" stroke="#000" stroke-width="2.1" stroke-linecap="round" stroke-linejoin="round"><path vector-effect="non-scaling-stroke" transform="translate(0.000 -10)" d="M0.1 6.3 L1.2 5.6 M1.2 0.2 L1.2 9.7 M0.4 9.8 L2.2 9.8"/></g>
<g transform="translate(511.05 25.05) scale(0.7917 1.1100)" fill="none" stroke="#000" stroke-width="2.1" stroke-linecap="round" stroke-linejoin="round"><path vector-effect="non-scaling-stroke" transform="translate(0.000 -10)" d="M0.1 6.3 L1.2 5.6 M1.2 0.2 L1.2 9.7 M0.4 9.8 L2.2 9.8"/></g>
<g transform="translate(494.45 43.95) skewX(-6) scale(0.8207 0.7900)" fill="none" stroke="#000" stroke-width="1.3" stroke-linecap="round" stroke-linejoin="round"><path vector-effect="non-scaling-stroke" transform="translate(0.000 -10)" d="M5.2 0 L0.9 0 L0.4 4.4 C1.2 3.8 2 3.6 2.9 3.6 C4.6 3.6 5.6 4.9 5.6 6.8 C5.6 8.8 4.5 10 2.8 10 C1.3 10 0.3 9.3 0 8"/><path vector-effect="non-scaling-stroke" transform="translate(7.600 -10)" d="M5.2 0 L0.9 0 L0.4 4.4 C1.2 3.8 2 3.6 2.9 3.6 C4.6 3.6 5.6 4.9 5.6 6.8 C5.6 8.8 4.5 10 2.8 10 C1.3 10 0.3 9.3 0 8"/><path vector-effect="non-scaling-stroke" transform="translate(15.200 -10)" d="M2.8 0 C1 0 0 1.3 0 3 L0 7 C0 8.7 1 10 2.8 10 C4.6 10 5.6 8.7 5.6 7 L5.6 3 C5.6 1.3 4.6 0 2.8 0 Z"/></g>
<g transform="translate(486.55 63.15) skewX(-10) scale(0.6553 0.7200)" fill="none" stroke="#000" stroke-width="1.3" stroke-linecap="round" stroke-linejoin="round"><path vector-effect="non-scaling-stroke" transform="translate(0.000 -10)" d="M0 2.6 C0 1 1.1 0 2.8 0 C4.5 0 5.6 1 5.6 2.6 C5.6 4 4.8 5 3.6 6.2 L0 10 L5.6 10"/><path vector-effect="non-scaling-stroke" transform="translate(7.600 -10)" d="M0 0 L5.6 0 L1.8 10"/><path vector-effect="non-scaling-stroke" transform="translate(15.200 -10)" d="M5.2 0 L0.9 0 L0.4 4.4 C1.2 3.8 2 3.6 2.9 3.6 C4.6 3.6 5.6 4.9 5.6 6.8 C5.6 8.8 4.5 10 2.8 10 C1.3 10 0.3 9.3 0 8"/></g>
<g transform="translate(509.45 63.15) skewX(-10) scale(0.6553 0.7200)" fill="none" stroke="#000" stroke-width="1.3" stroke-linecap="round" stroke-linejoin="round"><path vector-effect="non-scaling-stroke" transform="translate(0.000 -10)" d="M0 2.6 C0 1 1.1 0 2.8 0 C4.5 0 5.6 1 5.6 2.6 C5.6 4 4.8 5 3.6 6.2 L0 10 L5.6 10"/><path vector-effect="non-scaling-stroke" transform="translate(7.600 -10)" d="M0 0 L5.6 0 L1.8 10"/><path vector-effect="non-scaling-stroke" transform="translate(15.200 -10)" d="M5.2 0 L0.9 0 L0.4 4.4 C1.2 3.8 2 3.6 2.9 3.6 C4.6 3.6 5.6 4.9 5.6 6.8 C5.6 8.8 4.5 10 2.8 10 C1.3 10 0.3 9.3 0 8"/></g>
<g transform="translate(566.80 91.60) rotate(-90) skewX(-5) scale(0.6729 0.8200)" fill="none" stroke="#000" stroke-width="1.4" stroke-linecap="round" stroke-linejoin="round"><path vector-effect="non-scaling-stroke" transform="translate(0.000 -10)" d="M2.8 4.6 C1.4 4.6 0.5 3.7 0.5 2.3 C0.5 0.9 1.4 0 2.8 0 C4.2 0 5.1 0.9 5.1 2.3 C5.1 3.7 4.2 4.6 2.8 4.6 C1.1 4.6 0 5.7 0 7.3 C0 8.9 1.1 10 2.8 10 C4.5 10 5.6 8.9 5.6 7.3 C5.6 5.7 4.5 4.6 2.8 4.6 Z"/><path vector-effect="non-scaling-stroke" transform="translate(7.600 -10)" d="M2.8 0 C1 0 0 1.3 0 3 L0 7 C0 8.7 1 10 2.8 10 C4.6 10 5.6 8.7 5.6 7 L5.6 3 C5.6 1.3 4.6 0 2.8 0 Z"/></g>
<g transform="translate(566.80 118.60) rotate(-90) skewX(-5) scale(0.6026 0.7600)" fill="none" stroke="#000" stroke-width="1.4" stroke-linecap="round" stroke-linejoin="round"><path vector-effect="non-scaling-stroke" transform="translate(0.000 -10)" d="M0 2.6 C0 1 1.1 0 2.8 0 C4.5 0 5.6 1 5.6 2.6 C5.6 4 4.8 5 3.6 6.2 L0 10 L5.6 10"/><path vector-effect="non-scaling-stroke" transform="translate(7.600 -10)" d="M0 2.6 C0 1 1.1 0 2.8 0 C4.5 0 5.6 1 5.6 2.6 C5.6 4 4.8 5 3.6 6.2 L0 10 L5.6 10"/><path vector-effect="non-scaling-stroke" transform="translate(15.200 -10)" d="M2.8 0 C1 0 0 1.3 0 3 L0 7 C0 8.7 1 10 2.8 10 C4.6 10 5.6 8.7 5.6 7 L5.6 3 C5.6 1.3 4.6 0 2.8 0 Z"/></g>
<g transform="translate(566.80 139.30) rotate(-90) skewX(-5) scale(0.6248 0.8600)" fill="none" stroke="#000" stroke-width="1.4" stroke-linecap="round" stroke-linejoin="round"><path vector-effect="non-scaling-stroke" transform="translate(0.000 -10)" d="M0 2.6 C0 1 1.1 0 2.8 0 C4.5 0 5.6 1 5.6 2.6 C5.6 4 4.8 5 3.6 6.2 L0 10 L5.6 10"/><path vector-effect="non-scaling-stroke" transform="translate(7.600 -10)" d="M2.8 0 C1 0 0 1.3 0 3 L0 7 C0 8.7 1 10 2.8 10 C4.6 10 5.6 8.7 5.6 7 L5.6 3 C5.6 1.3 4.6 0 2.8 0 Z"/></g>
<g transform="translate(485.25 382.35) skewX(-8) scale(0.6356 0.7900)" fill="none" stroke="#000" stroke-width="1.3" stroke-linecap="round" stroke-linejoin="round"><path vector-effect="non-scaling-stroke" transform="translate(0.000 -10)" d="M0 2.6 C0 1 1.1 0 2.8 0 C4.5 0 5.6 1 5.6 2.6 C5.6 4 4.8 5 3.6 6.2 L0 10 L5.6 10"/><path vector-effect="non-scaling-stroke" transform="translate(7.600 -10)" d="M2.8 0 C1 0 0 1.3 0 3 L0 7 C0 8.7 1 10 2.8 10 C4.6 10 5.6 8.7 5.6 7 L5.6 3 C5.6 1.3 4.6 0 2.8 0 Z"/></g>
<g transform="translate(519.05 382.35) skewX(-8) scale(0.6659 0.7900)" fill="none" stroke="#000" stroke-width="1.3" stroke-linecap="round" stroke-linejoin="round"><path vector-effect="non-scaling-stroke" transform="translate(0.000 -10)" d="M0 2.6 C0 1 1.1 0 2.8 0 C4.5 0 5.6 1 5.6 2.6 C5.6 4 4.8 5 3.6 6.2 L0 10 L5.6 10"/><path vector-effect="non-scaling-stroke" transform="translate(7.600 -10)" d="M2.8 0 C1 0 0 1.3 0 3 L0 7 C0 8.7 1 10 2.8 10 C4.6 10 5.6 8.7 5.6 7 L5.6 3 C5.6 1.3 4.6 0 2.8 0 Z"/></g>
<g transform="translate(501.45 401.55) skewX(-12) scale(0.5554 0.7700)" fill="none" stroke="#000" stroke-width="1.3" stroke-linecap="round" stroke-linejoin="round"><path vector-effect="non-scaling-stroke" transform="translate(0.000 -10)" d="M0 2.8 L2.6 0 L2.6 10"/><path vector-effect="non-scaling-stroke" transform="translate(4.600 -10)" d="M4.3 10 L4.3 0 L0 7.2 L5.8 7.2"/><path vector-effect="non-scaling-stroke" transform="translate(11.800 -10)" d="M2.8 0 C1 0 0 1.3 0 3 L0 7 C0 8.7 1 10 2.8 10 C4.6 10 5.6 8.7 5.6 7 L5.6 3 C5.6 1.3 4.6 0 2.8 0 Z"/></g>
<g transform="translate(673.10 24.00) scale(0.8333 0.9900)" fill="none" stroke="#000" stroke-width="2.0" stroke-linecap="round" stroke-linejoin="round"><path vector-effect="non-scaling-stroke" transform="translate(0.000 -10)" d="M0.1 6.3 L1.2 5.6 M1.2 0.2 L1.2 9.7 M0.4 9.8 L2.2 9.8"/></g>
<g transform="translate(688.90 24.00) scale(0.9167 0.9900)" fill="none" stroke="#000" stroke-width="2.0" stroke-linecap="round" stroke-linejoin="round"><path vector-effect="non-scaling-stroke" transform="translate(0.000 -10)" d="M0.1 6.3 L1.2 5.6 M1.2 0.2 L1.2 9.7 M0.4 9.8 L2.2 9.8"/></g>
<g transform="translate(663.55 41.95) scale(0.9553 0.9000)" fill="none" stroke="#000" stroke-width="1.9" stroke-linecap="round" stroke-linejoin="round"><path vector-effect="non-scaling-stroke" transform="translate(0.000 -10)" d="M0 10 L0 0 L3.4 0 C5.1 0 6.0 1 6.0 2.8 C6.0 4.6 5.1 5.6 3.4 5.6 L0 5.6"/><path vector-effect="non-scaling-stroke" transform="translate(8.200 -10)" d="M0 0 L0 10 L5.2 0 L5.2 10"/><path vector-effect="non-scaling-stroke" transform="translate(15.600 -10)" d="M5.6 2.4 C5.6 0.9 4.5 0 2.9 0 C1 0 0 1 0 2.8 L0 7.2 C0 9 1 10 2.9 10 C4.5 10 5.6 9.1 5.6 7.6"/><path vector-effect="non-scaling-stroke" transform="translate(23.400 -10)" d="M0.6 9.3 L0.6 10"/></g>
<g transform="translate(693.25 41.95) scale(0.9643 0.9000)" fill="none" stroke="#000" stroke-width="1.9" stroke-linecap="round" stroke-linejoin="round"><path vector-effect="non-scaling-stroke" transform="translate(0.000 -10)" d="M0 2.6 C0 1 1.1 0 2.8 0 C4.5 0 5.6 1 5.6 2.6 C5.6 4 4.8 5 3.6 6.2 L0 10 L5.6 10"/></g>
<g transform="translate(649.75 56.45) scale(0.6481 0.9500)" fill="none" stroke="#000" stroke-width="1.7" stroke-linecap="round" stroke-linejoin="round"><path vector-effect="non-scaling-stroke" transform="translate(0.000 -10)" d="M2.7 0 C0.9 0 0 1 0 2.8 L0 7.2 C0 9 0.9 10 2.7 10 C4.5 10 5.4 9 5.4 7.2 L5.4 2.8 C5.4 1 4.5 0 2.7 0 Z"/></g>
<g transform="translate(656.08 56.52) scale(0.8373 0.6850)" fill="none" stroke="#000" stroke-width="1.75" stroke-linecap="round" stroke-linejoin="round"><path vector-effect="non-scaling-stroke" transform="translate(0.000 -10)" d="M5.6 2.4 C5.6 0.9 4.5 0 2.9 0 C1 0 0 1 0 2.8 L0 7.2 C0 9 1 10 2.9 10 C4.5 10 5.6 9.1 5.6 7.6"/><path vector-effect="non-scaling-stroke" transform="translate(8.200 -10)" d="M0 0 L5.6 0 M2.8 0 L2.8 10"/><path vector-effect="non-scaling-stroke" transform="translate(16.400 -10)" d="M0 10 L3.2 0 L6.4 10 M1.1 6.8 L5.3 6.8"/><path vector-effect="non-scaling-stroke" transform="translate(25.400 -10)" d="M0 10 L3.2 0 L6.4 10"/><path vector-effect="non-scaling-stroke" transform="translate(34.400 -10)" d="M0 0 L0 10 L3 10 C4.6 10 5.4 9 5.4 7.4 C5.4 5.8 4.6 4.8 3 4.8 L0 4.8"/><path vector-effect="non-scaling-stroke" transform="translate(42.400 -10)" d="M0 0 L0 10 M5.6 0 L5.6 10 M0 5 L5.6 5"/><path vector-effect="non-scaling-stroke" transform="translate(50.600 -10)" d="M2.7 0 C0.9 0 0 1 0 2.8 L0 7.2 C0 9 0.9 10 2.7 10 C4.5 10 5.4 9 5.4 7.2 L5.4 2.8 C5.4 1 4.5 0 2.7 0 Z"/><path vector-effect="non-scaling-stroke" transform="translate(58.600 -10)" d="M5 0 L0 0 L0 10 L5 10 M0 5 L4.2 5"/></g>
<g transform="translate(719.75 56.65) scale(0.8457 0.6900)" fill="none" stroke="#000" stroke-width="1.7" stroke-linecap="round" stroke-linejoin="round"><path vector-effect="non-scaling-stroke" transform="translate(0.000 -10)" d="M5.6 2.4 C5.6 0.9 4.5 0 2.9 0 C1 0 0 1 0 2.8 L0 7.2 C0 9 1 10 2.9 10 C4.5 10 5.6 9.1 5.6 7.6"/><path vector-effect="non-scaling-stroke" transform="translate(8.200 -10)" d="M0 10 L0 0 L3.4 7 L6.8 0 L6.8 10"/><path vector-effect="non-scaling-stroke" transform="translate(17.600 -10)" d="M0.6 9.3 L0.6 10"/></g>
<g transform="translate(740.95 56.65) scale(0.8056 0.6900)" fill="none" stroke="#000" stroke-width="1.7" stroke-linecap="round" stroke-linejoin="round"><path vector-effect="non-scaling-stroke" transform="translate(0.000 -10)" d="M0 10 L0 0 L3.4 0 C5.1 0 6.0 1 6.0 2.8 C6.0 4.6 5.1 5.6 3.4 5.6 L0 5.6"/><path vector-effect="non-scaling-stroke" transform="translate(8.400 -10)" d="M0 0 L0 10 L5.2 0 L5.2 10"/><path vector-effect="non-scaling-stroke" transform="translate(16.000 -10)" d="M5.6 2.4 C5.6 0.9 4.5 0 2.9 0 C1 0 0 1 0 2.8 L0 7.2 C0 9 1 10 2.9 10 C4.5 10 5.6 9.1 5.6 7.6"/><path vector-effect="non-scaling-stroke" transform="translate(24.000 -10)" d="M0.6 9.3 L0.6 10"/></g>
<g transform="translate(764.40 56.80) scale(0.5000 0.7300)" fill="none" stroke="#000" stroke-width="1.6" stroke-linecap="round" stroke-linejoin="round"><path vector-effect="non-scaling-stroke" transform="translate(0.000 -10)" d="M0.1 6.3 L1.2 5.6 M1.2 0.2 L1.2 9.7 M0.4 9.8 L2.2 9.8"/></g>
<g transform="translate(648.45 75.25) skewX(-14) scale(0.7443 0.6700)" fill="none" stroke="#000" stroke-width="1.3" stroke-linecap="round" stroke-linejoin="round"><path vector-effect="non-scaling-stroke" transform="translate(0.000 -10)" d="M0.3 0 L5.3 0 L2.6 4 C4.4 4 5.6 5.1 5.6 7 C5.6 8.9 4.5 10 2.8 10 C1.3 10 0.3 9.3 0 8"/><path vector-effect="non-scaling-stroke" transform="translate(7.600 -10)" d="M4.3 10 L4.3 0 L0 7.2 L5.8 7.2"/><path vector-effect="non-scaling-stroke" transform="translate(15.400 -10)" d="M5.2 0 L0.9 0 L0.4 4.4 C1.2 3.8 2 3.6 2.9 3.6 C4.6 3.6 5.6 4.9 5.6 6.8 C5.6 8.8 4.5 10 2.8 10 C1.3 10 0.3 9.3 0 8"/></g>
<g transform="translate(752.10 92.30) rotate(-90) skewX(-3) scale(0.6489 0.8300)" fill="none" stroke="#000" stroke-width="1.4" stroke-linecap="round" stroke-linejoin="round"><path vector-effect="non-scaling-stroke" transform="translate(0.000 -10)" d="M2.8 4.6 C1.4 4.6 0.5 3.7 0.5 2.3 C0.5 0.9 1.4 0 2.8 0 C4.2 0 5.1 0.9 5.1 2.3 C5.1 3.7 4.2 4.6 2.8 4.6 C1.1 4.6 0 5.7 0 7.3 C0 8.9 1.1 10 2.8 10 C4.5 10 5.6 8.9 5.6 7.3 C5.6 5.7 4.5 4.6 2.8 4.6 Z"/><path vector-effect="non-scaling-stroke" transform="translate(7.600 -10)" d="M2.8 0 C1 0 0 1.3 0 3 L0 7 C0 8.7 1 10 2.8 10 C4.6 10 5.6 8.7 5.6 7 L5.6 3 C5.6 1.3 4.6 0 2.8 0 Z"/></g>
<g transform="translate(752.10 117.90) rotate(-90) skewX(-3) scale(0.5818 0.7600)" fill="none" stroke="#000" stroke-width="1.4" stroke-linecap="round" stroke-linejoin="round"><path vector-effect="non-scaling-stroke" transform="translate(0.000 -10)" d="M0 2.6 C0 1 1.1 0 2.8 0 C4.5 0 5.6 1 5.6 2.6 C5.6 4 4.8 5 3.6 6.2 L0 10 L5.6 10"/><path vector-effect="non-scaling-stroke" transform="translate(7.600 -10)" d="M0 2.6 C0 1 1.1 0 2.8 0 C4.5 0 5.6 1 5.6 2.6 C5.6 4 4.8 5 3.6 6.2 L0 10 L5.6 10"/><path vector-effect="non-scaling-stroke" transform="translate(15.200 -10)" d="M2.8 0 C1 0 0 1.3 0 3 L0 7 C0 8.7 1 10 2.8 10 C4.6 10 5.6 8.7 5.6 7 L5.6 3 C5.6 1.3 4.6 0 2.8 0 Z"/></g>
<g transform="translate(752.10 138.60) rotate(-90) skewX(-3) scale(0.5958 0.8300)" fill="none" stroke="#000" stroke-width="1.4" stroke-linecap="round" stroke-linejoin="round"><path vector-effect="non-scaling-stroke" transform="translate(0.000 -10)" d="M0 2.6 C0 1 1.1 0 2.8 0 C4.5 0 5.6 1 5.6 2.6 C5.6 4 4.8 5 3.6 6.2 L0 10 L5.6 10"/><path vector-effect="non-scaling-stroke" transform="translate(7.600 -10)" d="M2.8 0 C1 0 0 1.3 0 3 L0 7 C0 8.7 1 10 2.8 10 C4.6 10 5.6 8.7 5.6 7 L5.6 3 C5.6 1.3 4.6 0 2.8 0 Z"/></g>
<g transform="translate(663.15 382.85) skewX(-8) scale(0.7568 0.7900)" fill="none" stroke="#000" stroke-width="1.3" stroke-linecap="round" stroke-linejoin="round"><path vector-effect="non-scaling-stroke" transform="translate(0.000 -10)" d="M0 2.6 C0 1 1.1 0 2.8 0 C4.5 0 5.6 1 5.6 2.6 C5.6 4 4.8 5 3.6 6.2 L0 10 L5.6 10"/><path vector-effect="non-scaling-stroke" transform="translate(7.600 -10)" d="M2.8 0 C1 0 0 1.3 0 3 L0 7 C0 8.7 1 10 2.8 10 C4.6 10 5.6 8.7 5.6 7 L5.6 3 C5.6 1.3 4.6 0 2.8 0 Z"/></g>
<g transform="translate(699.25 382.85) skewX(-8) scale(0.7568 0.7900)" fill="none" stroke="#000" stroke-width="1.3" stroke-linecap="round" stroke-linejoin="round"><path vector-effect="non-scaling-stroke" transform="translate(0.000 -10)" d="M0 2.6 C0 1 1.1 0 2.8 0 C4.5 0 5.6 1 5.6 2.6 C5.6 4 4.8 5 3.6 6.2 L0 10 L5.6 10"/><path vector-effect="non-scaling-stroke" transform="translate(7.600 -10)" d="M2.8 0 C1 0 0 1.3 0 3 L0 7 C0 8.7 1 10 2.8 10 C4.6 10 5.6 8.7 5.6 7 L5.6 3 C5.6 1.3 4.6 0 2.8 0 Z"/></g>
<g transform="translate(681.25 402.05) skewX(-12) scale(0.5365 0.8300)" fill="none" stroke="#000" stroke-width="1.3" stroke-linecap="round" stroke-linejoin="round"><path vector-effect="non-scaling-stroke" transform="translate(0.000 -10)" d="M0 2.8 L2.6 0 L2.6 10"/><path vector-effect="non-scaling-stroke" transform="translate(4.600 -10)" d="M4.3 10 L4.3 0 L0 7.2 L5.8 7.2"/><path vector-effect="non-scaling-stroke" transform="translate(11.800 -10)" d="M2.8 0 C1 0 0 1.3 0 3 L0 7 C0 8.7 1 10 2.8 10 C4.6 10 5.6 8.7 5.6 7 L5.6 3 C5.6 1.3 4.6 0 2.8 0 Z"/></g>
</g>
</svg></body></html>
